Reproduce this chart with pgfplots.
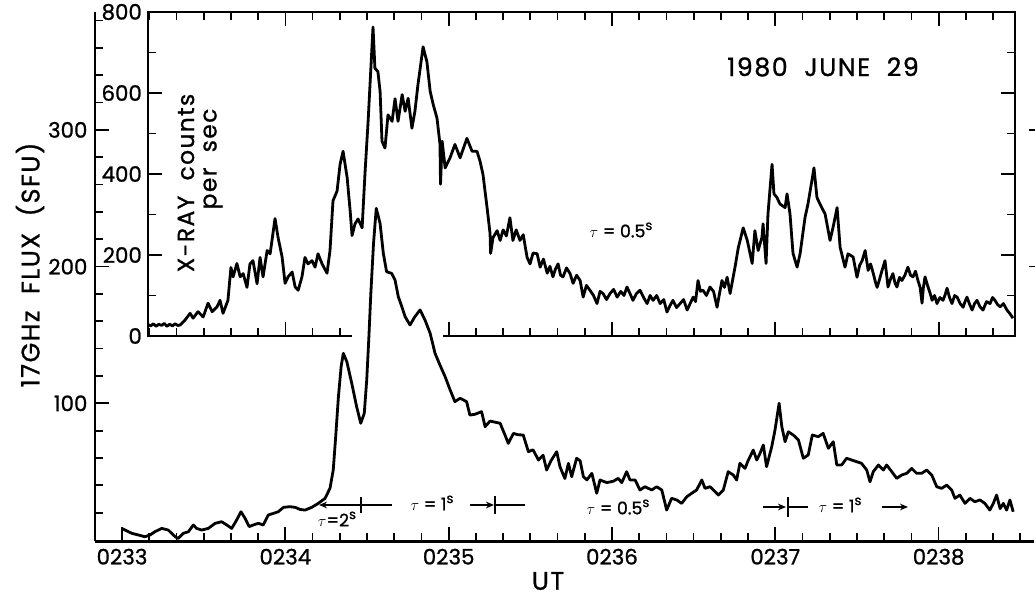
\documentclass[border=0pt]{standalone}
\usepackage{fontspec}
\setmainfont{Poppins}[FakeBold=1.0]
\usepackage{pgfplots}
\pgfplotsset{compat=1.18}
\usetikzlibrary{arrows.meta}

\newcommand\tk{\fontsize{16}{16}\selectfont}
\newcommand\ann{\fontsize{13}{13}\selectfont}
\newcommand\secs{\raisebox{5.5pt}{\fontsize{10}{10}\selectfont s}}
\newfontfamily\spaced{Poppins}[LetterSpace=6, FakeBold=1.0]

\pgfplotsset{
  burst/.style={
    scale only axis,
    tick align=inside,
    major tick length=10.5pt,
    minor tick length=6pt,
    every tick/.style={black, line width=1.3pt},
    axis line style={line width=1.8pt},
    tick label style={font=\tk},
    /pgf/number format/assume math mode=true,
  },
  trace/.style={black, line width=2.1pt, line join=round, mark=none},
}

\begin{document}
\begin{tikzpicture}[x=0.75pt, y=0.75pt]
\path[use as bounding box] (0,0) rectangle (1035,598);

% ---- hard X-ray count rate (inset axis) ----
\begin{axis}[
  burst,
  width=650.2pt, height=243pt,
  at={(110.93pt,196.5pt)}, anchor=south west,
  xmin=9.5, xmax=328, ymin=0, ymax=800,
  xtick={60,120,...,300}, minor xtick={10,20,...,320},
  xticklabels={},
  ytick={0,200,...,800}, minor ytick={100,300,500,700},
  yticklabel pos=left,
  yticklabel style={xshift=-1pt},
]
\addplot[trace] table {
9.6 28
10.5 25
11.5 30
12.5 24
13.5 29
14.5 26
15.5 31
16.5 24
17.5 29
18.5 25
19.5 30
20.5 26
21.3 27
23.1 39
25.0 56
26.1 44
27.9 60
29.8 47
31.6 81
33.1 60
34.9 72
36.0 88
37.1 56
38.9 88
40.0 169
40.8 146
42.2 179
43.4 146
44.5 154
45.9 120
47.0 178
48.1 186
49.6 129
50.7 194
51.8 146
53.3 211
54.4 203
56.2 290
57.3 244
58.8 195
59.9 130
61.0 146
62.5 158
63.6 121
64.7 113
66.1 146
67.2 194
68.3 178
69.8 186
70.9 170
72.0 203
73.5 178
75.3 155
76.4 211
77.5 334
79.0 358
80.1 424
81.2 456
82.7 391
83.8 309
84.5 248
85.6 277
86.7 289
88.2 267
89.3 407
90.4 530
92.2 763
92.9 661
94.0 653
94.8 604
95.5 481
96.6 464
97.7 546
99.2 530
100.3 586
101.4 530
102.9 596
104.0 555
105.1 587
106.5 513
107.6 555
108.7 620
110.6 714
112.0 677
113.2 604
114.3 572
115.7 538
116.8 474
117.0 375
117.6 481
118.7 415
120.5 440
122.3 473
124.2 440
126.7 488
128.6 456
130.4 456
131.5 432
132.6 399
134.1 317
135.2 253
135.4 204
136.3 243
137.8 260
138.9 236
140.0 262
141.2 247
142.5 292
143.6 236
144.8 262
146.2 236
147.4 250
148.8 194
149.9 178
151.0 205
152.5 203
153.6 170
154.8 190
156.2 155
157.2 172
158.3 146
159.2 165
160.2 178
161.1 150
162.0 146
163.3 168
164.6 154
165.7 130
167.0 150
168.3 137
169.4 96
170.6 125
171.9 113
173.2 100
174.5 80
175.6 110
176.7 105
178.0 90
179.3 105
180.6 115
181.9 96
183.2 110
184.4 100
185.5 121
186.6 105
187.7 88
189.0 105
190.3 113
191.6 95
192.9 80
194.0 100
195.1 88
196.4 100
197.7 80
199.0 90
200.2 59
201.3 75
202.4 88
203.7 70
205.0 80
206.3 90
207.6 64
208.7 80
209.8 96
210.7 85
211.6 137
212.5 110
213.4 113
214.7 100
216.0 121
217.3 110
218.6 71
219.5 105
220.4 137
221.3 120
222.3 145
223.4 105
225.3 174
226.4 218
228.2 267
229.7 236
231.5 179
232.5 260
233.7 211
235.1 244
235.5 277
236.6 179
237.3 301
238.8 424
239.5 351
240.6 342
241.7 326
243.6 317
244.3 351
245.4 301
246.5 204
248.0 170
249.1 203
250.9 292
252.0 326
254.2 415
255.3 342
256.4 326
258.3 301
260.1 236
261.2 268
262.7 317
263.8 219
265.6 170
266.7 203
268.6 195
269.3 170
270.0 145
271.0 175
271.9 186
273.0 211
274.1 162
275.0 178
276.0 154
276.7 135
277.4 120
278.3 140
279.2 162
280.3 186
281.4 121
282.3 140
283.2 154
284.0 130
284.7 121
285.6 145
286.5 137
287.6 150
288.7 170
289.7 150
290.6 146
291.5 160
292.4 137
293.2 120
293.9 81
294.4 120
295.0 146
296.1 121
296.9 105
297.6 88
298.5 100
299.4 80
300.5 95
301.6 88
302.3 100
303.1 118
304.0 95
304.9 80
305.9 100
306.8 96
307.9 80
309.0 71
309.7 85
310.4 96
311.4 78
312.3 64
313.2 80
314.1 88
315.2 72
316.3 64
317.6 85
318.9 80
319.8 95
320.7 88
321.6 78
322.6 72
323.8 80
325.1 64
326.2 55
327.3 44
};
\end{axis}

% opening in the inset's lower edge where the radio peak passes
\fill[white] (352,258) rectangle (443,273);

% ---- 17 GHz radio flux (main axis) ----
\begin{axis}[
  burst,
  width=704.3pt, height=396.8pt,
  at={(71.1pt,42.45pt)}, anchor=south west,
  xmin=-10, xmax=335, ymin=-1, ymax=386,
  axis x line*=bottom, axis y line*=left,
  axis line style={-},
  xtick={0,60,...,300}, minor xtick={10,20,...,330},
  xticklabels={0233,0234,0235,0236,0237,0238},
  xticklabel style={yshift=-2pt},
  ytick={100,200,300}, minor ytick={20,40,...,380},
  yticklabel style={xshift=-2pt},
]
\addplot[trace] table {
0 8.5
1.1 7.3
3.6 4.9
6.0 3.7
8.4 2.4
10.3 3.7
12.1 6.1
14.6 8.5
17.0 7.3
19.5 2.4
20.7 1.2
22.5 4.9
24.4 6.1
26.2 11.0
27.4 8.5
29.3 7.3
31.7 8.5
34.2 12.2
36.6 13.4
38.5 11.0
40.3 8.5
42.1 14.6
43.7 20.7
45.2 15.9
46.7 9.8
48.2 11.0
50.1 12.2
51.9 11.0
53.7 18.3
55.6 19.5
57.4 20.7
59.3 23.9
61.7 24.4
63.6 23.9
65.4 22.4
67.2 21.9
69.7 23.9
72.1 26.8
74.6 30.5
76.4 37.8
77.6 51.2
78.5 75.6
79.5 104.8
80.5 126.8
81.3 136.6
82.6 130.4
84.4 114.6
86.2 97.5
87.7 85.4
89.0 92.7
89.9 117.0
90.7 148.7
91.4 180
92.4 217
93.4 242.6
94.8 231.7
96.0 209.7
97.2 196.3
99.1 195.0
100.3 190.2
101.5 178.0
102.8 170.7
104.0 163.4
105.8 157.3
107.6 163.4
109.5 168.3
111.3 161.0
113.2 151.2
115.0 136.6
116.8 128.0
118.7 119.5
120.5 110.0
122.3 101.2
124.2 103.7
126.6 101.2
127.8 91.4
129.7 92.0
132.1 93.9
133.4 82.9
135.2 87.0
138.9 85.4
140.7 76.8
141.9 70.7
143.8 78.0
145.5 77.0
147.4 76.8
149.3 64.6
151.0 66.0
153.0 58.5
154.7 62.0
156.0 51.2
157.6 58.0
159.7 64.6
160.9 53.6
162.7 45.0
164.0 56.1
165.2 46.3
167.0 59.8
168.3 58.0
169.5 46.3
170.8 44.0
172.6 48.8
174.4 34.2
175.6 43.9
178.1 42.0
180.5 43.0
182.3 45.1
183.6 42.0
185.4 50.0
186.6 44.0
188.5 43.9
190.3 36.6
192.1 39.0
194.6 36.6
196.4 39.0
198.3 36.6
200.1 21.9
201.9 30.5
203.8 29.3
205.6 26.8
207.5 31.7
209.3 34.2
211.1 36.6
213.0 43.9
214.2 37.8
216.0 39.0
217.9 35.4
219.1 32.9
220.9 36.6
222.7 50.0
224.6 47.5
225.8 43.9
227.0 56.1
228.9 52.4
230.1 58.5
231.9 65.8
233.2 58.5
234.4 63.4
235.6 69.5
236.8 53.6
238.7 68.3
239.9 80.5
241.4 100.0
242.4 82.9
243.6 71.9
244.8 79.2
246.6 76.8
248.5 73.2
250.3 59.8
252.1 62.2
253.6 76.8
255.8 75.6
257.6 78.0
259.5 67.1
261.3 71.9
262.6 54.9
264.4 54.9
266.2 59.8
268.1 58.5
269.9 57.3
271.7 56.1
273.6 51.2
274.8 42.6
276.0 50.0
277.9 54.9
279.7 51.2
280.9 54.9
282.8 50.0
284.6 45.1
286.4 47.5
288.3 48.8
290.1 52.4
291.9 48.8
293.8 48.8
295.6 51.2
297.5 47.5
299.3 39.0
301.1 37.8
303.0 40.2
304.8 36.6
306.0 30.5
307.8 32.9
309.7 26.8
311.5 30.5
313.3 28.0
315.2 29.3
317.0 26.8
318.8 21.9
320.1 26.8
321.3 32.9
322.6 23.0
323.8 26.8
325.0 21.9
326.2 29.3
327.4 20.7
};
\end{axis}

% right-hand flux ticks at the page edge
\draw[line width=1.3pt] (1029,468) -- (1036,468);
\draw[line width=1.3pt] (1029,331.4) -- (1036,331.4);

% axis titles
\node[rotate=90, font=\fontsize{19}{19}\spaced] at (30,333) {17GHz\ \ FLUX\ \ (SFU)};
\node[rotate=90, font=\fontsize{17.5}{17.5}\spaced] at (186,415) {X-RAY\ \ counts};
\node[rotate=90, font=\fontsize{17.5}{17.5}\spaced] at (213,439) {per\ \ sec};
\node[font=\fontsize{19}{19}\spaced] at (548,17) {UT};
\node[font=\fontsize{19}{19}\spaced] at (823,531) {1980\ \ JUNE\ \ 29};
\node[font=\ann] at (621,368) {$\tau$ = 0.5\secs};

% time-constant intervals of the radio record
\begin{scope}[line width=1.2pt, >={Stealth[length=6pt,width=5pt]}]
  \draw[->] (392,93) -- (319,93);
  \draw (361,85) -- (361,101);
  \draw[->] (470,93) -- (494,93);
  \draw (525,93) -- (496,93);
  \draw (495,84) -- (495,102);
  \draw[->] (763,91) -- (786,91);
  \draw (808,91) -- (789,91);
  \draw (788,81) -- (788,101);
  \draw[->] (882,91) -- (908,91);
\end{scope}
\node[font=\ann] at (337,79) {$\tau$=2\secs};
\node[font=\ann] at (432,95) {$\tau$ = 1\secs};
\node[font=\ann] at (618,91) {$\tau$ = 0.5\secs};
\node[font=\ann] at (840,93) {$\tau$ = 1\secs};
\end{tikzpicture}
\end{document}
